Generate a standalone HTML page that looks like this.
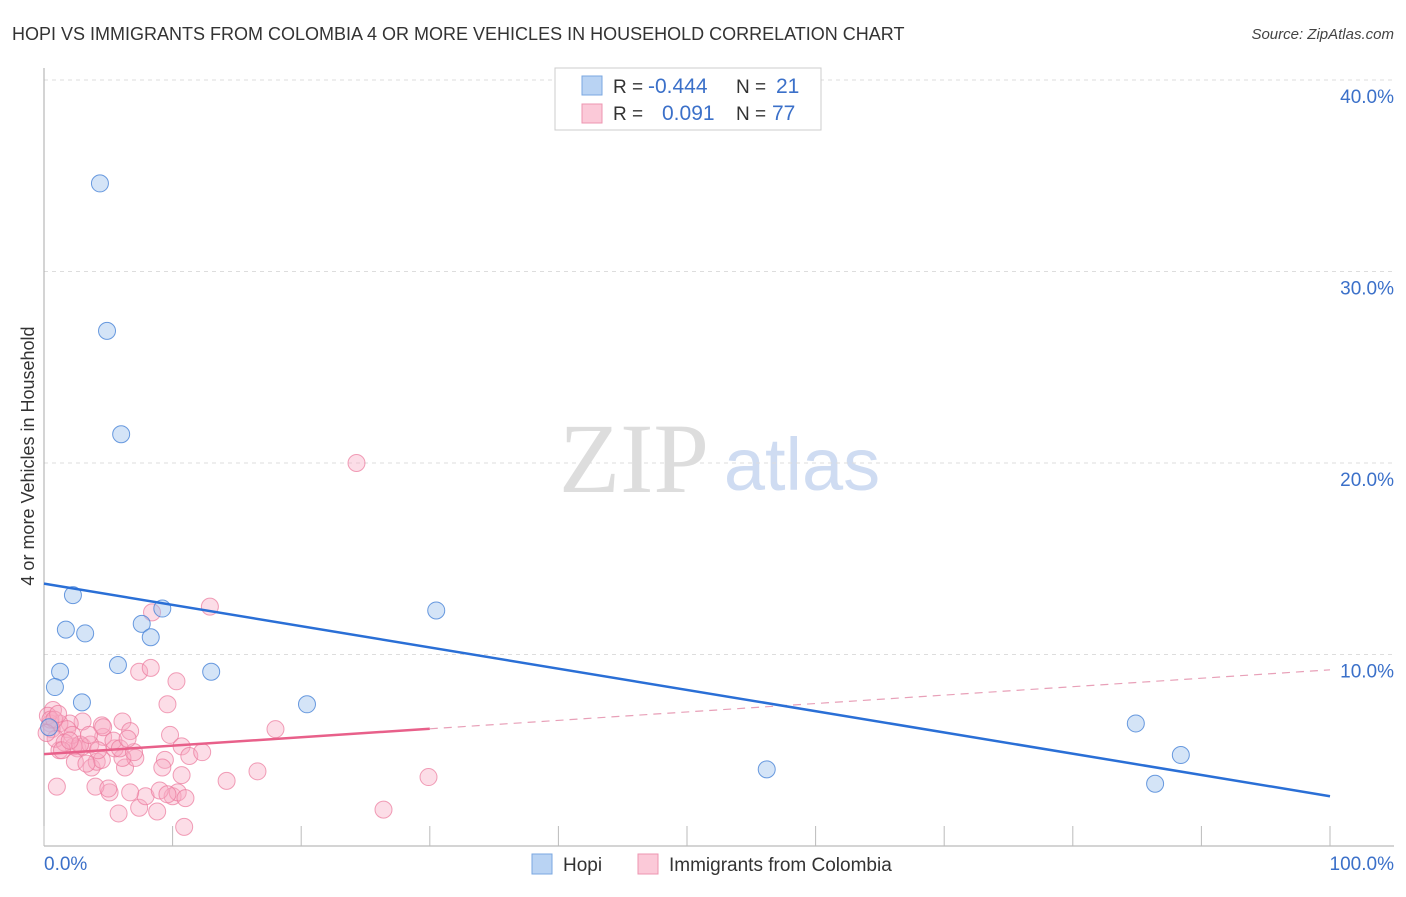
<!DOCTYPE html>
<html><head><meta charset="utf-8">
<style>
body{margin:0;background:#fff;font-family:"Liberation Sans",sans-serif;}
svg text{font-family:"Liberation Sans",sans-serif;}
</style></head>
<body>
<svg id="chart" width="1406" height="892" xmlns="http://www.w3.org/2000/svg">
<text x="12" y="40" font-size="18" fill="#333">HOPI VS IMMIGRANTS FROM COLOMBIA 4 OR MORE VEHICLES IN HOUSEHOLD CORRELATION CHART</text>
<text x="1394" y="39" font-size="15" fill="#444" text-anchor="end" font-style="italic">Source: ZipAtlas.com</text>
<text x="34" y="456" font-size="18" fill="#333" text-anchor="middle" transform="rotate(-90 34 456)">4 or more Vehicles in Household</text>
<g>
<text x="634" y="492" font-size="100" fill="#ddd" text-anchor="middle" style="font-family:'Liberation Serif',serif">ZIP</text>
<text x="802" y="490" font-size="74" fill="#cfdcf2" text-anchor="middle">atlas</text>
</g>
<g id="grid"></g>
<g id="axes"></g>
<g id="marks"></g>
<g>
<rect x="555" y="68" width="266" height="62" fill="#fff" stroke="#ccc"/>
<rect x="582" y="76" width="20" height="19" fill="#b9d3f3" stroke="#7aa7e0"/>
<rect x="582" y="104" width="20" height="19" fill="#fbc9d8" stroke="#ee95b0"/>
<text x="613" y="93" font-size="19" fill="#333">R =</text>
<text x="648" y="93" font-size="21" fill="#3b70c9">-0.444</text>
<text x="736" y="93" font-size="19" fill="#333">N =</text>
<text x="776" y="93" font-size="21" fill="#3b70c9">21</text>
<text x="613" y="120" font-size="19" fill="#333">R =</text>
<text x="662" y="120" font-size="21" fill="#3b70c9">0.091</text>
<text x="736" y="120" font-size="19" fill="#333">N =</text>
<text x="772" y="120" font-size="21" fill="#3b70c9">77</text>
</g>
<g>
<rect x="532" y="854" width="20" height="20" fill="#b9d3f3" stroke="#7aa7e0"/>
<text x="563" y="871" font-size="19" fill="#333">Hopi</text>
<rect x="638" y="854" width="20" height="20" fill="#fbc9d8" stroke="#ee95b0"/>
<text x="669" y="871" font-size="19" fill="#333">Immigrants from Colombia</text>
</g>
</svg>
<script>
const hopiX=[4.35,4.9,6.0,2.25,1.7,3.2,7.6,9.2,8.3,1.25,5.75,13.0,0.85,2.95,20.45,30.5,56.2,84.9,88.4,86.4,0.4];
const hopiY=[34.6,26.9,21.5,13.1,11.3,11.1,11.6,12.4,10.9,9.1,9.45,9.1,8.3,7.5,7.4,12.3,4.0,6.4,4.75,3.25,6.2];
const colX=[8.4,12.9,7.4,8.3,10.3,9.6,18.0,9.8,10.7,11.3,12.3,9.4,9.2,10.7,14.2,16.6,29.9,26.4,10.9,8.8,5.8,7.4,7.9,6.7,5.1,4.0,1.0,10.0,10.4,9.0,6.3,7.1,6.1,3.7,4.1,4.5,2.6,3.0,1.2,2.3,5.5,4.6,5.4,6.1,6.7,4.5,3.0,2.0,1.2,0.7,0.5,0.6,1.8,0.9,2.2,4.6,5.9,2.4,3.6,24.3,0.3,0.5,1.6,2.8,3.3,4.2,7.0,6.5,1.4,2.0,0.8,3.5,5.0,9.6,11.0,0.2,1.1];
const colY=[12.2,12.5,9.1,9.3,8.6,7.4,6.1,5.8,5.2,4.7,4.9,4.5,4.1,3.7,3.4,3.9,3.6,1.9,1.0,1.8,1.7,2.0,2.6,2.8,2.8,3.1,3.1,2.6,2.8,2.9,4.1,4.6,4.6,4.1,4.4,4.5,5.1,5.2,5.0,5.2,5.1,5.7,5.5,6.5,6.0,6.3,6.5,6.4,6.4,7.1,6.4,6.1,6.1,5.6,5.8,6.2,5.1,4.4,5.3,20.0,6.8,6.6,5.4,5.3,4.3,5.0,4.9,5.6,5.0,5.5,6.6,5.8,3.0,2.7,2.5,5.9,6.9];
const xTicks=[0,10,20,30,40,50,60,70,80,90,100];
const yTicks=[10,20,30,40];
const yTickLabels=["10.0%","20.0%","30.0%","40.0%"];
const xTickLabels=["0.0%","100.0%"];
const hopiTrend=[13.7,2.6];
const colTrend=[4.8,9.2];
const colSolidEnd=30;
</script>
<script>
const NS="http://www.w3.org/2000/svg";
const X=v=>44+v*12.86, Y=v=>846-v*19.15;
function mk(tag,attrs,parent){const e=document.createElementNS(NS,tag);for(const k in attrs)e.setAttribute(k,attrs[k]);parent.appendChild(e);return e;}
const grid=document.getElementById('grid'),axes=document.getElementById('axes'),marks=document.getElementById('marks');
yTicks.forEach((t,i)=>{
 const l=mk('line',{x1:44,x2:1394,y1:Y(t),y2:Y(t),stroke:'#ddd','stroke-dasharray':'4,4'},grid);
 
 
 const tx=mk('text',{x:1394,y:Y(t)+23,'font-size':19,fill:'#3b70c9','text-anchor':'end'},axes);
 tx.textContent=yTickLabels[i];
 
 
});
const ax=mk('line',{x1:44,x2:44,y1:68,y2:846,stroke:'#aaa'},axes);


const bx=mk('line',{x1:44,x2:1394,y1:846,y2:846,stroke:'#aaa'},axes);


xTicks.forEach(t=>{
 const l=mk('line',{x1:X(t),x2:X(t),y1:826,y2:846,stroke:'#bbb'},axes);
 
 
});
[[0,44,'start'],[100,1394,'end']].forEach((d,i)=>{
 const tx=mk('text',{x:d[1],y:870,'font-size':19,fill:'#3b70c9','text-anchor':d[2]},axes);
 tx.textContent=xTickLabels[i];
 
 
});
colX.forEach((x,i)=>{
 const c=mk('circle',{cx:X(x),cy:Y(colY[i]),r:8.5,fill:'rgba(248,170,195,0.4)',stroke:'rgba(235,120,155,0.7)','stroke-width':1},marks);
 
 
});
hopiX.forEach((x,i)=>{
 const c=mk('circle',{cx:X(x),cy:Y(hopiY[i]),r:8.5,fill:'rgba(160,195,238,0.45)',stroke:'rgba(70,130,215,0.8)','stroke-width':1},marks);
 
 
});
const cy=x=>colTrend[0]+(colTrend[1]-colTrend[0])*x/100;
const t1=mk('line',{x1:X(0),y1:Y(cy(0)),x2:X(colSolidEnd),y2:Y(cy(colSolidEnd)),stroke:'#e8608a','stroke-width':2.5},marks);


const t2=mk('line',{x1:X(colSolidEnd),y1:Y(cy(colSolidEnd)),x2:X(100),y2:Y(cy(100)),stroke:'#e8a0b8','stroke-width':1.2,'stroke-dasharray':'8,6'},marks);


const t3=mk('line',{x1:X(0),y1:Y(hopiTrend[0]),x2:X(100),y2:Y(hopiTrend[1]),stroke:'#2a6fd6','stroke-width':2.5},marks);


</script>
</body></html>
